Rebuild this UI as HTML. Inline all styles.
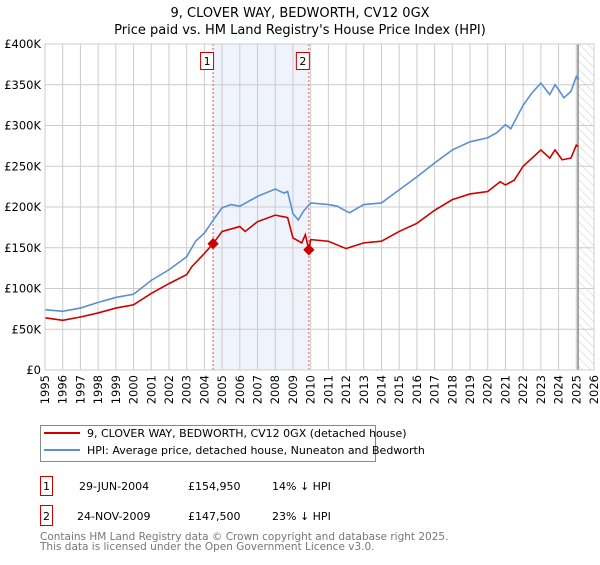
<!DOCTYPE html>
<html><head><meta charset="utf-8"><style>
body{margin:0;background:#fff;font-family:"Liberation Sans","DejaVu Sans",sans-serif;}
svg text{font-family:"DejaVu Sans","Liberation Sans",sans-serif;}
</style></head><body>
<svg id="c" width="600" height="560" xmlns="http://www.w3.org/2000/svg">
<defs><pattern id="hatch" width="6" height="6" patternUnits="userSpaceOnUse" patternTransform="rotate(-45)"><line x1="0" y1="0" x2="0" y2="6" stroke="#ccc" stroke-width="1"/></pattern></defs>
<text x="300" y="17" text-anchor="middle" font-size="13">9, CLOVER WAY, BEDWORTH, CV12 0GX</text>
<text x="300" y="34" text-anchor="middle" font-size="13">Price paid vs. HM Land Registry's House Price Index (HPI)</text>
<g id="plot"></g>
<g>
<rect x="40.5" y="425.5" width="335" height="36" fill="#fff" stroke="#888"/>
<line x1="44" y1="433" x2="80" y2="433" stroke="#cc0000" stroke-width="2"/>
<text x="87" y="437" font-size="11">9, CLOVER WAY, BEDWORTH, CV12 0GX (detached house)</text>
<line x1="44" y1="450" x2="80" y2="450" stroke="#5b8fd0" stroke-width="2"/>
<text x="87" y="454" font-size="11">HPI: Average price, detached house, Nuneaton and Bedworth</text>
</g>
<g font-size="11">
<rect x="40.5" y="476.5" width="12" height="19" fill="#fff" stroke="#cc0000"/>
<text x="46.5" y="490" text-anchor="middle">1</text>
<text x="79" y="490">29-JUN-2004</text><text x="188" y="490">£154,950</text><text x="272" y="490">14% ↓ HPI</text>
<rect x="40.5" y="505.5" width="12" height="20" fill="#fff" stroke="#cc0000"/>
<text x="46.5" y="520" text-anchor="middle">2</text>
<text x="77" y="520">24-NOV-2009</text><text x="188" y="520">£147,500</text><text x="272" y="520">23% ↓ HPI</text>
</g>
<text x="40" y="540" font-size="10.5" fill="#777">Contains HM Land Registry data © Crown copyright and database right 2025.</text>
<text x="40" y="550" font-size="10.5" fill="#777">This data is licensed under the Open Government Licence v3.0.</text>
</svg>
<script>
const hpiYears=[1995,1996,1997,1998,1999,2000,2001,2002,2003,2003.5,2004,2004.5,2005,2005.5,2006,2007,2008,2008.5,2008.7,2009,2009.3,2009.6,2010,2011,2011.5,2012,2012.2,2013,2014,2015,2016,2017,2018,2019,2020,2020.5,2021,2021.3,2022,2022.5,2023,2023.5,2023.8,2024,2024.3,2024.7,2025,2025.1];
const hpiValues=[74,72,76,83,89,93,110,123,139,158,168,184,199,203,201,213,222,217,219,192,184,195,205,203,201,195,193,203,205,221,237,254,270,280,285,291,301,296,325,340,352,338,350,344,334,342,360,356];
const priceYears=[1995,1996,1997,1998,1999,2000,2001,2002,2003,2003.3,2004,2004.49,2005,2006,2006.3,2007,2008,2008.7,2009,2009.5,2009.7,2009.9,2010,2011,2012,2013,2014,2015,2016,2017,2018,2019,2020,2020.7,2021,2021.5,2022,2023,2023.5,2023.8,2024.2,2024.7,2025,2025.1];
const priceValues=[64,61,65,70,76,80,94,106,117,127,143,155,170,176,170,182,190,187,162,156,166,147.5,160,158,149,156,158,170,180,196,209,216,219,231,227,233,250,270,260,270,258,260,276,274];
const sales=[{n:"1",year:2004.49,value:154.95},{n:"2",year:2009.9,value:147.5}];
const yTicks=[0,50,100,150,200,250,300,350,400];
const yTickLabels=["£0","£50K","£100K","£150K","£200K","£250K","£300K","£350K","£400K"];
const xStart=1995,xEnd=2026,dataEnd=2025.1;
const L=45,R=594,T=44,B=370;
const x=v=>L+(v-xStart)/(xEnd-xStart)*(R-L);
const y=v=>B-v/400*(B-T);
const NS="http://www.w3.org/2000/svg";
const g=document.getElementById('plot');
function mk(t,a,p){const e=document.createElementNS(NS,t);for(const k in a)e.setAttribute(k,a[k]);(p||g).appendChild(e);return e;}
let e;
e=mk('rect',{x:x(sales[0].year),y:T,width:x(sales[1].year)-x(sales[0].year),height:B-T,fill:'#eef3fc'});


e=mk('rect',{x:x(dataEnd),y:T,width:R-x(dataEnd),height:B-T,fill:'url(#hatch)'});


for(let yr=xStart;yr<=xEnd;yr++){
 e=mk('line',{x1:x(yr),x2:x(yr),y1:T,y2:B,stroke:'#ccc'});
 
 
 e=mk('text',{transform:`translate(${x(yr)+4},${B+5}) rotate(-90)`,'text-anchor':'end','font-size':'11.5'});
 e.textContent=yr;
 
 
}
yTicks.forEach((v,i)=>{
 e=mk('line',{x1:L,x2:R,y1:y(v),y2:y(v),stroke:'#ccc'});
 
 
 e=mk('text',{x:L-4,y:y(v)+4,'text-anchor':'end','font-size':'11.5'});
 e.textContent=yTickLabels[i];
 
 
});
e=mk('line',{x1:x(dataEnd),x2:x(dataEnd),y1:T,y2:B,stroke:'#888','stroke-width':1.5});


sales.forEach(s=>{
 e=mk('line',{x1:x(s.year),x2:x(s.year),y1:T,y2:B,stroke:'#f05050','stroke-dasharray':'2,2'});
 
 
});
e=mk('polyline',{points:hpiYears.map((t,i)=>x(t)+','+y(hpiValues[i])).join(' '),fill:'none',stroke:'#5b8fd0','stroke-width':1.6});


e=mk('polyline',{points:priceYears.map((t,i)=>x(t)+','+y(priceValues[i])).join(' '),fill:'none',stroke:'#cc0000','stroke-width':1.6});


sales.forEach(s=>{
 e=mk('rect',{x:x(s.year)-4,y:y(s.value)-4,width:8,height:8,fill:'#cc0000',transform:`rotate(45 ${x(s.year)} ${y(s.value)})`});
 
 
 e=mk('rect',{x:x(s.year)-12.5,y:52.5,width:13,height:17,fill:'#fff',stroke:'#cc0000'});
 
 
 e=mk('text',{x:x(s.year)-6,y:65,'text-anchor':'middle','font-size':'11'});
 e.textContent=s.n;
 
 
});
e=mk('rect',{x:L,y:T,width:R-L,height:B-T,fill:'none',stroke:'#ccc'});


</script>
</body></html>
